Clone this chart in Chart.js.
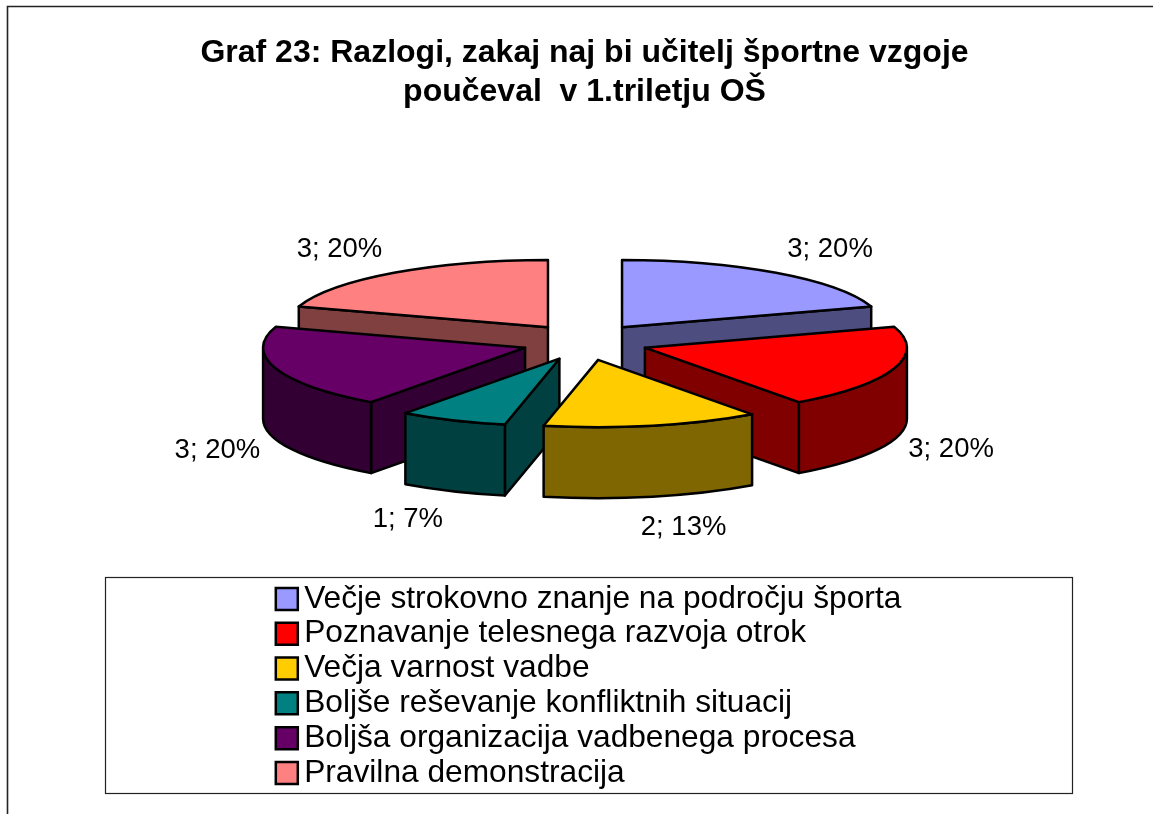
<!DOCTYPE html>
<html><head><meta charset="utf-8">
<style>html,body{margin:0;padding:0;background:#fff}canvas{display:block}</style>
<script src="https://cdn.jsdelivr.net/npm/chart.js@4"></script>
</head><body>
<div style="width:1153px;height:814px"><canvas id="c" width="1153" height="814"></canvas></div>
<script>
const titleLines = ['Graf 23: Razlogi, zakaj naj bi učitelj športne vzgoje', 'poučeval  v 1.triletju OŠ'];
const categories = ['Večje strokovno znanje na področju športa','Poznavanje telesnega razvoja otrok','Večja varnost vadbe','Boljše reševanje konfliktnih situacij','Boljša organizacija vadbenega procesa','Pravilna demonstracija'];
const values = [3, 3, 2, 1, 3, 3];
const topColors = ['#9999FF','#FF0000','#FFCC00','#008080','#660066','#FF8080'];
const wallColors = ['#4D4D80','#800000','#806600','#004040','#330033','#804040'];
const paintOrder = [5, 0, 4, 1, 3, 2];
const labelNudges = [[54,-23.5],[57,80.5],[31,101.5],[-45,99.5],[-58.5,81.5],[-54.5,-23.5]];
const FONT = '"Liberation Sans", Arial, sans-serif';
const pie3d = { cx:585, cy:342, squash:0.257, explode:63, explodeY:0.29, depth:71, line:2.5 };
const frame = { x:7.5, y:6.5, right:1153 };
const legendBox = { x:105, y:577, w:967, h:216 };
const total = values.reduce((a,b)=>a+b,0);

function geom(arc){
  const p = arc.getProps(['x','y','startAngle','endAngle','outerRadius'], true);
  const mid = (p.startAngle + p.endAngle)/2;
  return { ...p, mid,
    ax: pie3d.cx + Math.cos(mid)*pie3d.explode,
    ay: pie3d.cy + Math.sin(mid)*pie3d.explode*pie3d.explodeY,
    ry: p.outerRadius*pie3d.squash };
}
function pt(g,a){ return [g.ax+Math.cos(a)*g.outerRadius, g.ay+Math.sin(a)*g.ry]; }
function faceVisible(g,a){
  const dx=Math.cos(a), dy=Math.sin(a)*pie3d.squash;
  if(Math.abs(dx)<1e-6) return false;
  const px=Math.cos(g.mid), py=Math.sin(g.mid)*pie3d.squash;
  return py < dy/dx*px;
}
function drawSlice(ctx,arc,i){
  const g=geom(arc), d=pie3d.depth;
  ctx.save();
  ctx.lineWidth=pie3d.line; ctx.lineJoin='round'; ctx.strokeStyle='#000'; ctx.fillStyle=wallColors[i];
  for(const a of [g.startAngle,g.endAngle]){
    if(!faceVisible(g,a)) continue;
    const e=pt(g,a);
    ctx.beginPath(); ctx.moveTo(g.ax,g.ay); ctx.lineTo(e[0],e[1]); ctx.lineTo(e[0],e[1]+d); ctx.lineTo(g.ax,g.ay+d); ctx.closePath();
    ctx.fill(); ctx.stroke();
  }
  const a0=Math.max(g.startAngle,0), a1=Math.min(g.endAngle,Math.PI);
  if(a1>a0){
    ctx.beginPath();
    ctx.ellipse(g.ax,g.ay,g.outerRadius,g.ry,0,a0,a1,false);
    ctx.ellipse(g.ax,g.ay+d,g.outerRadius,g.ry,0,a1,a0,true);
    ctx.closePath(); ctx.fill(); ctx.stroke();
  }
  ctx.restore();
  ctx.save();
  ctx.translate(g.ax,g.ay); ctx.scale(1,pie3d.squash); ctx.translate(-g.x,-g.y);
  arc.draw(ctx);
  ctx.restore();
  ctx.save();
  ctx.lineWidth=pie3d.line; ctx.lineJoin='round'; ctx.strokeStyle='#000';
  ctx.beginPath(); ctx.moveTo(g.ax,g.ay);
  ctx.ellipse(g.ax,g.ay,g.outerRadius,g.ry,0,g.startAngle,g.endAngle,false);
  ctx.closePath(); ctx.stroke();
  ctx.restore();
}
const pie3dPlugin = {
  id:'pie3d',
  beforeDraw(chart){
    const ctx=chart.ctx, L=chart.legend;
    L.left=282.2; L.right=chart.width; L.top=legendBox.y+3; L.bottom=chart.height;
    L.draw=function(){ this._draw(); };
    ctx.save();
    ctx.strokeStyle='#222'; ctx.lineWidth=1.6;
    ctx.beginPath(); ctx.moveTo(frame.x,chart.height); ctx.lineTo(frame.x,frame.y); ctx.lineTo(frame.right,frame.y); ctx.stroke();
    ctx.lineWidth=1.2;
    ctx.strokeRect(legendBox.x+.5,legendBox.y+.5,legendBox.w,legendBox.h);
    ctx.restore();
  },
  beforeDatasetsDraw(chart){
    const ctx=chart.ctx, arcs=chart.getDatasetMeta(0).data;
    paintOrder.forEach(i=>drawSlice(ctx,arcs[i],i));
    ctx.save();
    ctx.font='27.5px '+FONT; ctx.fillStyle='#000'; ctx.textAlign='center'; ctx.textBaseline='middle';
    arcs.forEach((arc,i)=>{
      const g=geom(arc), e=pt(g,g.mid);
      ctx.fillText(values[i]+'; '+Math.round(values[i]/total*100)+'%', e[0]+labelNudges[i][0], e[1]+labelNudges[i][1]);
    });
    ctx.restore();
    return false;
  }
};
new Chart(document.getElementById('c'),{
  type:'pie',
  data:{labels:categories,datasets:[{data:values,backgroundColor:topColors,borderColor:'#000',borderWidth:0,radius:262}]},
  plugins:[pie3dPlugin],
  options:{
    responsive:false,animation:false,
    layout:{padding:{left:16}},
    plugins:{
      tooltip:{enabled:false},
      title:{display:true,text:titleLines,color:'#000',font:{family:FONT,size:32,weight:'bold',lineHeight:1.22},padding:{top:34,bottom:0}},
      legend:{position:'left',align:'start',
        labels:{usePointStyle:true,pointStyle:'rect',boxWidth:3,boxHeight:22,padding:3.1,color:'#000',font:{family:FONT,size:31.7},
          generateLabels(chart){
            return categories.map((t,i)=>({text:t,fillStyle:topColors[i],strokeStyle:'#000',lineWidth:2.5,pointStyle:'rect',index:i,hidden:false}));
          }}}
    }
  }
});
</script>
</body></html>
